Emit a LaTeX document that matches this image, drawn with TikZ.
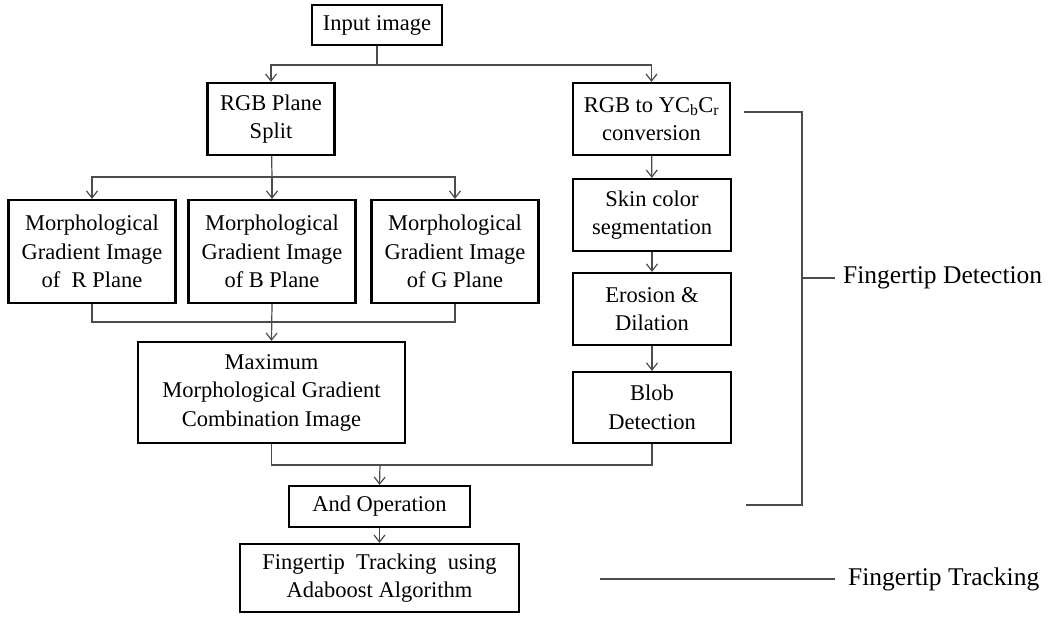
\documentclass[tikz,border=0pt]{standalone}
\usepackage{fontspec}
\setmainfont{Liberation Serif}
\usetikzlibrary{arrows.meta}

\tikzset{
  procbox/.style={draw, line width=2.2pt, align=center, inner sep=0pt,
    font=\fontsize{22.5}{28.5}\selectfont},
  link/.style={draw=black!70, line width=1.2pt},
  flow/.style={link, -{Straight Barb[length=7pt,width=11pt]}},
  tag/.style={anchor=west, inner sep=0pt, font=\fontsize{25.5}{30}\selectfont}
}

\begin{document}
\begin{tikzpicture}[x=1pt,y=-1pt]
\useasboundingbox (0,0) rectangle (1048,616);

\node[procbox, minimum width=130pt, minimum height=40pt] (input) at (377,25) {Input image};

\node[procbox, minimum width=127pt, minimum height=72pt] (rgbsplit) at (271,119) {RGB Plane\\Split};
\node[procbox, minimum width=157pt, minimum height=72pt] (ycc) at (651.5,119) {RGB to YC\textsubscript{b}C\textsubscript{r}\\conversion};

\node[procbox, minimum width=167pt, minimum height=103pt] (mr) at (92,251.5) {Morphological\\Gradient Image\\of~ R Plane};
\node[procbox, minimum width=167pt, minimum height=103pt] (mb) at (272,251.5) {Morphological\\Gradient Image\\of B Plane};
\node[procbox, minimum width=167pt, minimum height=103pt] (mg) at (455,251.5) {Morphological\\Gradient Image\\of G Plane};

\node[procbox, minimum width=158pt, minimum height=72pt] (skin) at (652,215) {Skin color\\segmentation};
\node[procbox, minimum width=158pt, minimum height=72pt] (erosion) at (652,309) {Erosion \&\\Dilation};
\node[procbox, minimum width=158pt, minimum height=71pt] (blob) at (652,407.5) {Blob\\Detection};

\node[procbox, minimum width=267pt, minimum height=101pt] (maxg) at (271.5,392.5) {Maximum\\Morphological Gradient\\Combination Image};

\node[procbox, minimum width=181pt, minimum height=41pt] (andop) at (379.5,506.5) {And Operation};
\node[procbox, minimum width=279pt, minimum height=68pt] (track) at (379.5,578) {Fingertip~ Tracking~ using\\Adaboost Algorithm};

\coordinate (j1) at (377,65);
\coordinate (j2) at (272,177);
\coordinate (j3) at (272,322);
\coordinate (j4) at (380,465);

\draw[link] (input) -- (j1);
\draw[flow] (j1) -| (rgbsplit.north);
\draw[flow] (j1) -| (ycc.north);

\draw[link] (rgbsplit) -- (j2);
\draw[flow] (j2) -| (mr.north);
\draw[flow] (j2) -- (mb.north);
\draw[flow] (j2) -| (mg.north);

\draw[link] (mr.south) |- (j3) -| (mg.south);
\draw[flow] (mb.south) -- (maxg.north);

\draw[flow] (ycc) -- (skin);
\draw[flow] (skin) -- (erosion);
\draw[flow] (erosion) -- (blob);

\draw[link] (maxg.south) |- (j4);
\draw[link] (blob.south) |- (j4);
\draw[flow] (j4) -- (andop.north);
\draw[flow] (andop) -- (track);

\node[tag] (detlbl) at (843,278) {Fingertip Detection};
\node[tag] (trklbl) at (848,579) {Fingertip Tracking};

\coordinate (b1) at (744,112);
\coordinate (b2) at (802,112);
\coordinate (b3) at (802,505);
\coordinate (b4) at (746,505);
\coordinate (bm) at (802,278);
\coordinate (t1) at (600,579);

\draw[link] (b1) -- (b2) -- (b3) -- (b4);
\draw[link] (bm) -- ([xshift=-8pt]detlbl.west);
\draw[link] (t1) -- ([xshift=-13pt]trklbl.west);
\end{tikzpicture}
\end{document}
